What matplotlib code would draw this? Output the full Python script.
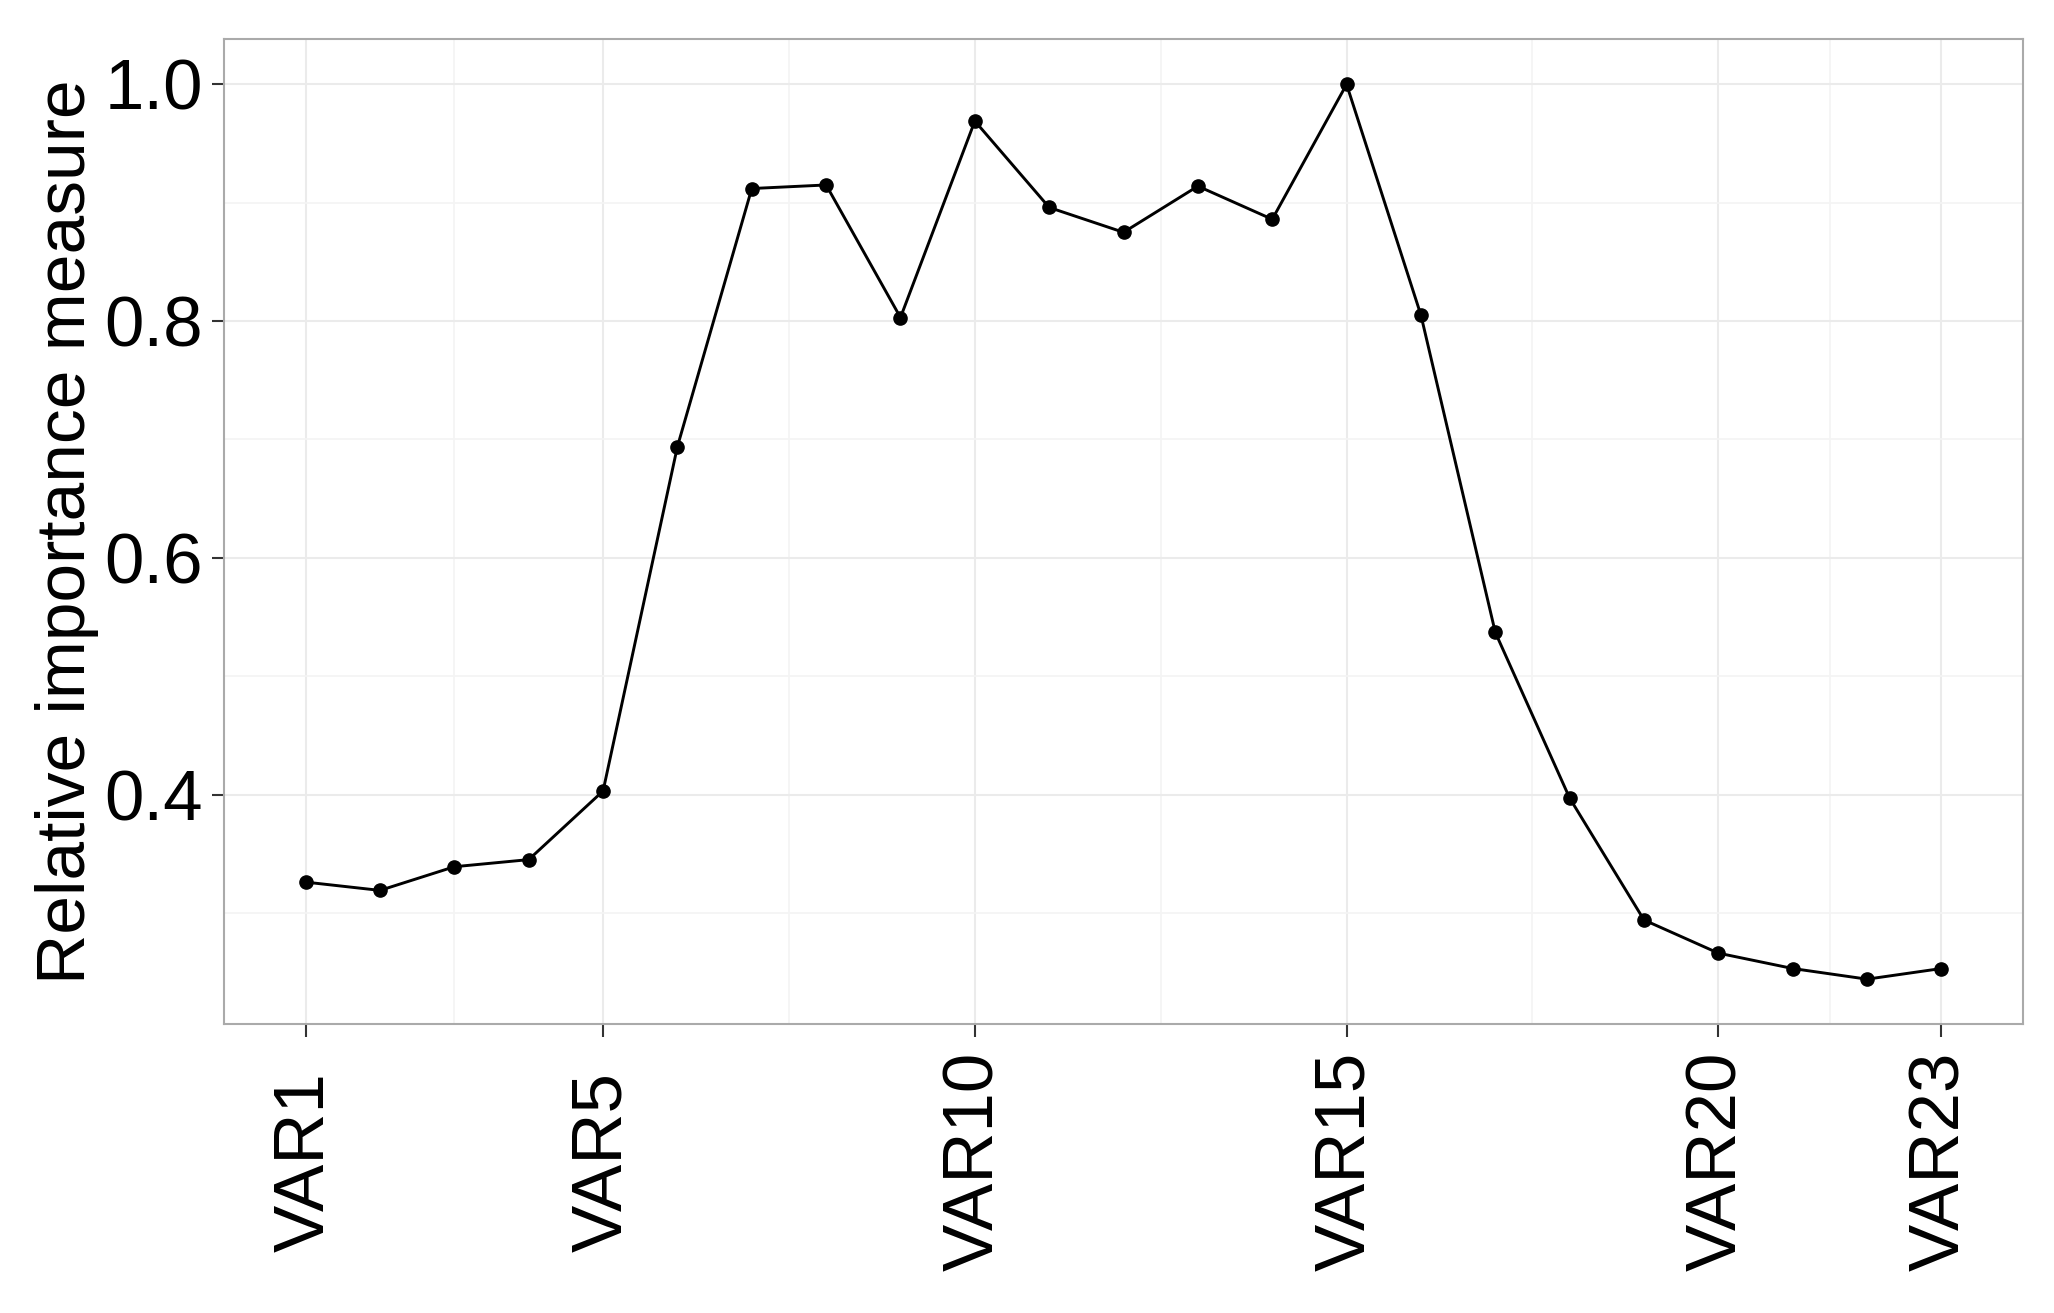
import matplotlib
matplotlib.use("Agg")
from matplotlib import pyplot as plt

plt.rcParams['font.family'] = ['Liberation Sans', 'DejaVu Sans']

# relative importance per variable, VAR1..VAR23
var_idx = list(range(1, 24))
importance = [0.326, 0.319, 0.339, 0.345, 0.403, 0.694, 0.912, 0.915, 0.803,
              0.969, 0.896, 0.875, 0.914, 0.886, 1.000, 0.805, 0.537, 0.397,
              0.294, 0.266, 0.253, 0.244, 0.253]
x_ticks = [1, 5, 10, 15, 20, 23]
x_labels = ['VAR1', 'VAR5', 'VAR10', 'VAR15', 'VAR20', 'VAR23']
x_minor = [3, 7.5, 12.5, 17.5, 21.5]
y_ticks = [0.4, 0.6, 0.8, 1.0]
y_minor = [0.3, 0.5, 0.7, 0.9]

fig = plt.figure(figsize=(20.54, 13.13), dpi=100)
ax = fig.add_axes([0.109, 0.220, 0.876, 0.750])

ax.plot(var_idx, importance, color='black', lw=2.1, marker='o', ms=9.5,
        zorder=3)

ax.set_xlim(-0.1, 24.1)
ax.set_ylim(0.206, 1.038)

ax.set_xticks(x_ticks)
ax.set_xticklabels(x_labels, rotation=90, fontsize=51)
ax.set_xticks(x_minor, minor=True)
ax.set_yticks(y_ticks)
ax.set_yticklabels(['%.1f' % v for v in y_ticks], fontsize=51)
ax.set_yticks(y_minor, minor=True)

ax.grid(True, which='major', color='#ebebeb', lw=1.5, zorder=0)
ax.grid(True, which='minor', color='#f4f4f4', lw=1.2, zorder=0)
ax.tick_params(which='major', length=9, width=1.5, color='#333333')
ax.tick_params(axis='y', pad=6)
# ggplot-style: rotated labels centred on their own length
ax.tick_params(axis='x', pad=90)
for lab in ax.get_xticklabels():
    lab.set_va('center')
ax.tick_params(which='minor', length=0)

for s in ax.spines.values():
    s.set_color('#aaaaaa')
    s.set_linewidth(1.5)

ax.set_ylabel('Relative importance measure', fontsize=50, labelpad=4)

fig.savefig('out.png', dpi=100)
